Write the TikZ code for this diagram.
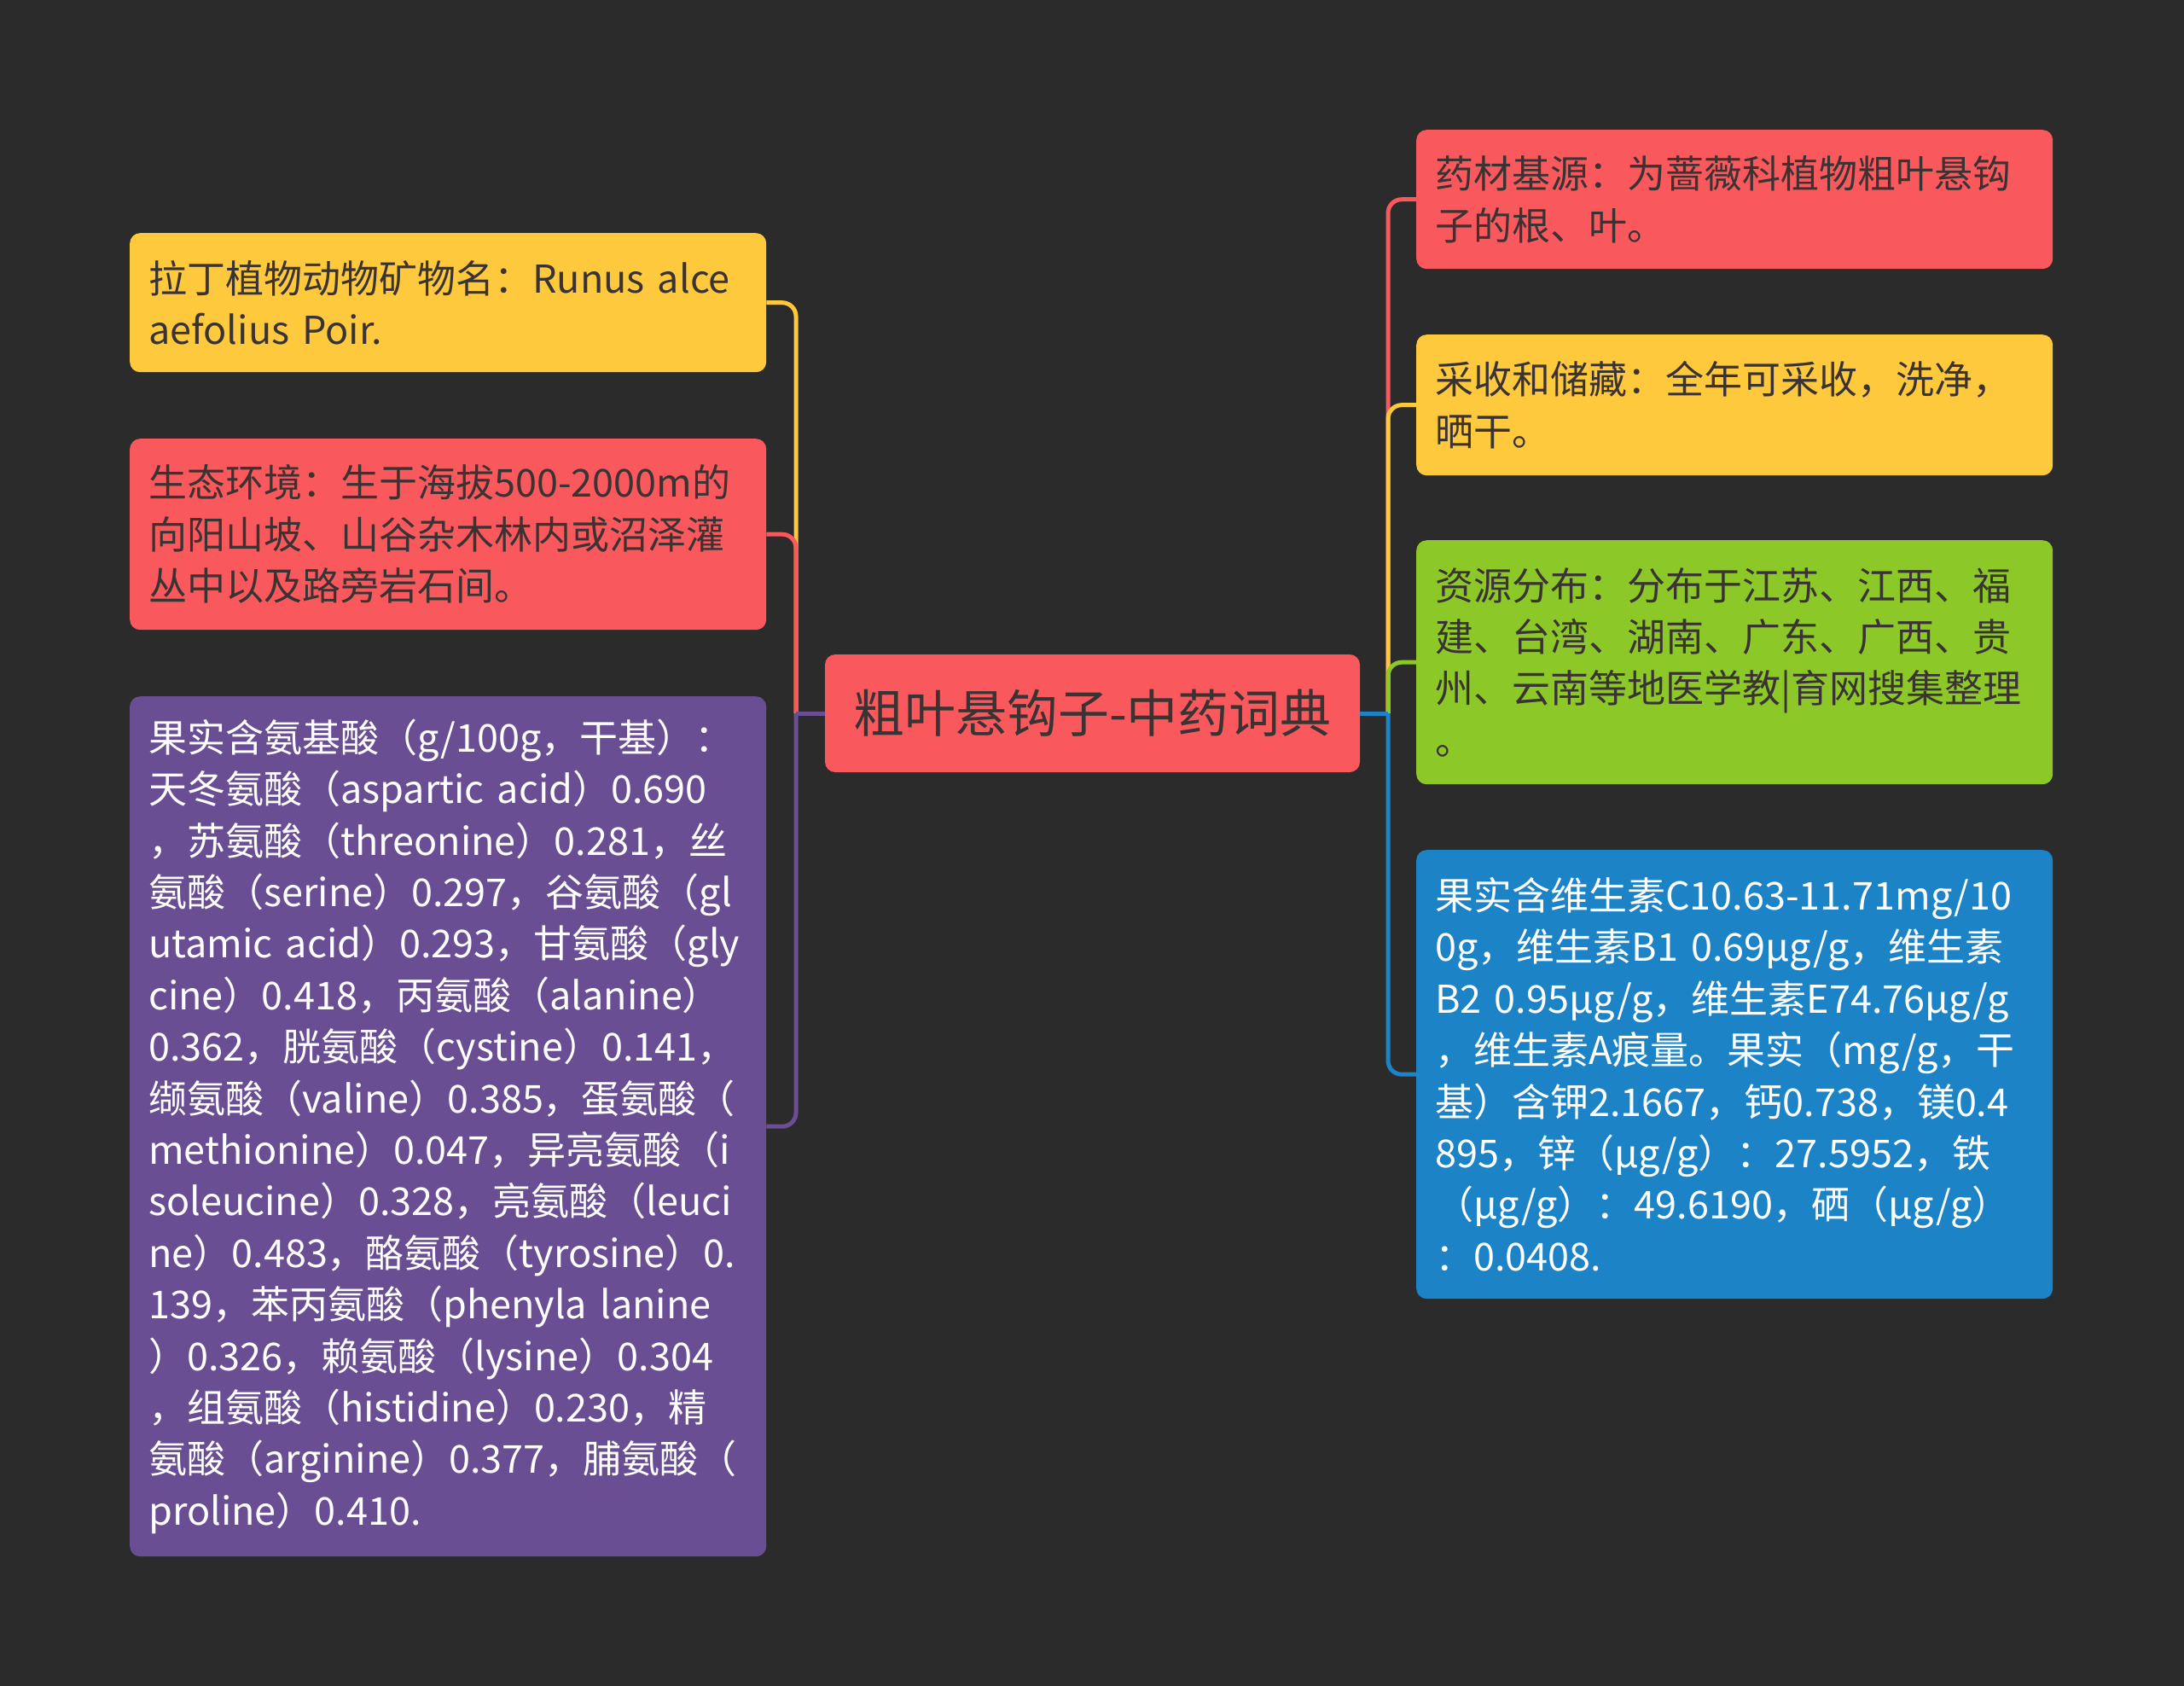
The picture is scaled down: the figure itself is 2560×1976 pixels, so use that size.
\documentclass[tikz,border=0pt]{standalone}
\usepackage{fontspec}
\setmainfont{Noto Sans CJK SC}

\definecolor{bgdark}{HTML}{2B2B2B}
\definecolor{mmred}{HTML}{F9585D}
\definecolor{mmyellow}{HTML}{FFC93E}
\definecolor{mmgreen}{HTML}{8CC928}
\definecolor{mmblue}{HTML}{1D83C7}
\definecolor{mmpurple}{HTML}{6A4E94}
\definecolor{txtdark}{HTML}{3A3333}

\begin{document}
\begin{tikzpicture}[x=1pt,y=-1pt,
    leaf/.style={rounded corners=12pt, anchor=north west,
        text width=702pt, inner xsep=22pt, inner ysep=0pt, align=left,
        font=\fontsize{45}{60.4}\selectfont},
    rootbox/.style={fill=mmred, text=txtdark, rounded corners=12pt,
        minimum width=627pt, minimum height=138pt,
        font=\fontsize{60}{72}\selectfont},
    branch/.style={line width=5pt, rounded corners=16pt}
]

% background and page size
\fill[bgdark] (0,0) rectangle (2560,1976);

% Junctions of the two trunks
\coordinate (jl) at (933,836);
\coordinate (jr) at (1627,836);

% --- Central topic ---
\node[rootbox] (root) at (1280.5,836) {粗叶悬钩子-中药词典};

% --- Left side ---
\node[leaf, fill=mmyellow, text=txtdark, minimum height=163pt] (latin) at (152,273)
    {拉丁植物动物矿物名：Runus~alce\\aefolius~Poir.};
\node[leaf, fill=mmred, text=txtdark, minimum height=224pt] (habitat) at (152,514)
    {生态环境：生于海拔500-2000m的\\向阳山坡、山谷杂木林内或沼泽灌\\丛中以及路旁岩石间。};
\node[leaf, fill=mmpurple, text=white, minimum height=1008pt] (amino) at (152,816)
    {果实含氨基酸（g/100g，干基）：\\
     天冬氨酸（aspartic~acid）0.690\\
     ，苏氨酸（threonine）0.281，丝\\
     氨酸（serine）0.297，谷氨酸（gl\\
     utamic~acid）0.293，甘氨酸（gly\\
     cine）0.418，丙氨酸（alanine）\\
     0.362，胱氨酸（cystine）0.141，\\
     缬氨酸（valine）0.385，蛋氨酸（\\
     methionine）0.047，异亮氨酸（i\\
     soleucine）0.328，亮氨酸（leuci\\
     ne）0.483，酪氨酸（tyrosine）0.\\
     139，苯丙氨酸（phenyla~lanine\\
     ）0.326，赖氨酸（lysine）0.304\\
     ，组氨酸（histidine）0.230，精\\
     氨酸（arginine）0.377，脯氨酸（\\
     proline）0.410.};

% --- Right side ---
\node[leaf, fill=mmred, text=txtdark, minimum height=163pt] (source) at (1660,152)
    {药材基源：为蔷薇科植物粗叶悬钩\\子的根、叶。};
\node[leaf, fill=mmyellow, text=txtdark, minimum height=165pt] (harvest) at (1660,392)
    {采收和储藏：全年可采收，洗净，\\晒干。};
\node[leaf, fill=mmgreen, text=txtdark, minimum height=286pt] (distrib) at (1660,633)
    {资源分布：分布于江苏、江西、福\\建、台湾、湖南、广东、广西、贵\\州、云南等地医学教|育网搜集整理\\。};
\node[leaf, fill=mmblue, text=white, minimum height=526pt] (vitamin) at (1660,996)
    {果实含维生素C10.63-11.71mg/10\\
     0g，维生素B1~0.69μg/g，维生素\\
     B2~0.95μg/g，维生素E74.76μg/g\\
     ，维生素A痕量。果实（mg/g，干\\
     基）含钾2.1667，钙0.738，镁0.4\\
     895，锌（μg/g）：27.5952，铁\\
     （μg/g）：49.6190，硒（μg/g）\\
     ：0.0408.};

% --- Connectors, left ---
\draw[branch, mmyellow] (jl) |- (latin.east);
\draw[branch, mmred] (jl) |- (habitat.east);
\draw[branch, mmpurple] (jl) |- (amino.east);
\draw[branch, mmpurple] (root.west) -- (jl);

% --- Connectors, right ---
\draw[branch, mmred] (jr) |- (source.west);
\draw[branch, mmyellow] (jr) |- (harvest.west);
\draw[branch, mmgreen] (jr) |- (distrib.west);
\draw[branch, mmblue] (jr) |- (vitamin.west);
\draw[branch, mmblue] (root.east) -- (jr);

\end{tikzpicture}
\end{document}
